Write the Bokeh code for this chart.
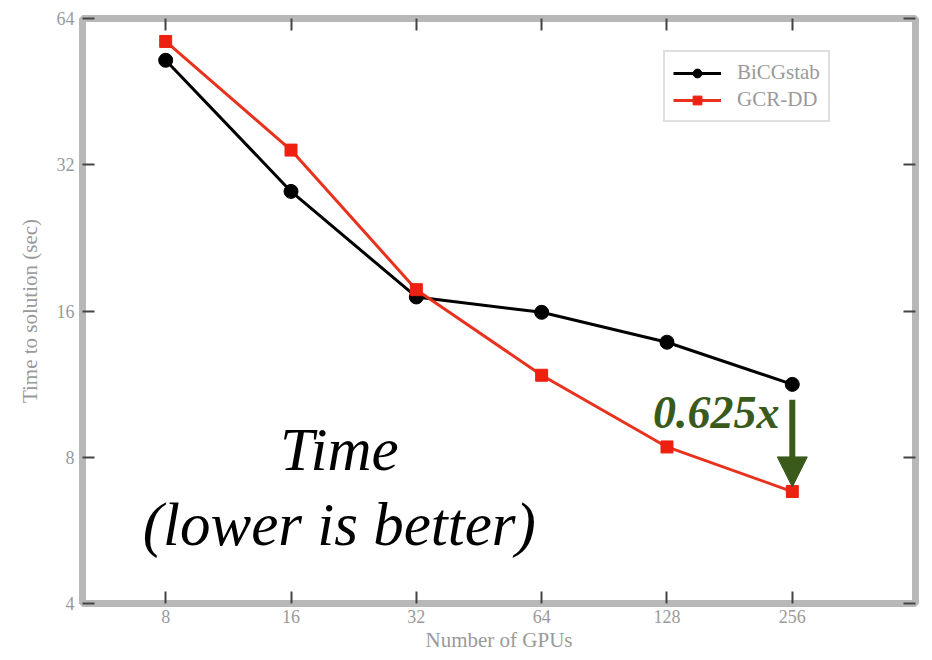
from bokeh.plotting import figure
from bokeh.models import FixedTicker, LogAxis, Label, Arrow, NormalHead, Legend
from bokeh.embed import file_html
from bokeh.resources import INLINE

gpus = [8, 16, 32, 64, 128, 256]
bicgstab = [52.5, 28.2, 17.1, 15.9, 13.8, 11.3]
gcrdd = [57.4, 34.3, 17.7, 11.8, 8.4, 6.8]
y_ticks = [4, 8, 16, 32, 64]
x_label = "Number of GPUs"
y_label = "Time to solution (sec)"

SERIF = "Liberation Serif"
GRAY = "#9a9a9a"

p = figure(width=932, height=660, x_axis_type="log", y_axis_type="log",
           x_range=(5.05, 506), y_range=(4, 64),
           output_backend="svg", toolbar_location=None,
           min_border_left=82, min_border_right=17, min_border_top=18, min_border_bottom=57)
p.background_fill_color = "white"
p.border_fill_color = "white"
p.grid.visible = False
p.outline_line_color = "#b8b8b8"
p.outline_line_width = 7

def style_axis(ax, labels=True):
    ax.axis_line_color = None
    ax.major_tick_in = 12
    ax.major_tick_out = 0
    ax.major_tick_line_color = "#444444"
    ax.major_tick_line_width = 2
    ax.minor_tick_line_color = None
    ax.major_label_text_font = SERIF
    ax.major_label_text_font_size = "18px"
    ax.major_label_text_color = GRAY if labels else None
    ax.axis_label_text_font = SERIF
    ax.axis_label_text_font_size = "21px"
    ax.axis_label_text_font_style = "normal"
    ax.axis_label_text_color = GRAY

p.xaxis.ticker = FixedTicker(ticks=gpus)
p.xaxis.major_label_overrides = {g: str(g) for g in gpus}
p.xaxis.axis_label = x_label
p.yaxis.ticker = FixedTicker(ticks=y_ticks)
p.yaxis.major_label_overrides = {t: str(t) for t in y_ticks}
p.yaxis.axis_label = y_label
p.yaxis.major_label_orientation = 0
style_axis(p.xaxis[0])
style_axis(p.yaxis[0])
p.xaxis.major_label_standoff = 6
p.xaxis.axis_label_standoff = 2
p.yaxis.major_label_standoff = 8
p.yaxis.axis_label_standoff = 12

top = LogAxis(ticker=FixedTicker(ticks=gpus))
right = LogAxis(ticker=FixedTicker(ticks=y_ticks))
style_axis(top, labels=False)
style_axis(right, labels=False)
top.major_label_text_font_size = "0px"
right.major_label_text_font_size = "0px"
p.add_layout(top, "above")
p.add_layout(right, "right")

l1 = p.line(gpus, bicgstab, line_color="black", line_width=3)
m1 = p.scatter(gpus, bicgstab, marker="circle", size=14, fill_color="black", line_color="black")
l2 = p.line(gpus, gcrdd, line_color="#e8321e", line_width=3)
m2 = p.scatter(gpus, gcrdd, marker="square", size=12, fill_color="#ee2010", line_color="#ee2010")

legend = Legend(items=[("BiCGstab", [l1, m1]), ("GCR-DD", [l2, m2])],
                location=(581, 481))
legend.border_line_color = "#c0c0c0"
legend.border_line_width = 2
legend.label_text_font = SERIF
legend.label_text_font_size = "21px"
legend.label_text_color = GRAY
legend.glyph_width = 48
legend.glyph_height = 22
legend.label_height = 22
legend.label_standoff = 16
legend.spacing = 2
legend.padding = 8
legend.margin = 0
p.add_layout(legend)

p.add_layout(Label(x=20.9, y=8.3, text="Time", text_font=SERIF, text_font_style="italic",
                   text_font_size="61px", text_align="center", text_baseline="middle",
                   text_color="black"))
p.add_layout(Label(x=20.9, y=5.83, text="(lower is better)", text_font=SERIF,
                   text_font_style="italic", text_font_size="61px", text_align="center",
                   text_baseline="middle", text_color="black"))
GREEN = "#3a5a1c"
p.add_layout(Label(x=168, y=9.9, text="0.625x", text_font=SERIF, text_font_style="bold italic",
                   text_font_size="46px", text_align="center", text_baseline="middle",
                   text_color=GREEN))
p.add_layout(Arrow(x_start=256, y_start=10.5, x_end=256, y_end=6.95,
                   line_color=GREEN, line_width=6,
                   end=NormalHead(size=30, fill_color=GREEN, line_color=GREEN)))

open("out.html", "w").write(file_html(p, INLINE))
